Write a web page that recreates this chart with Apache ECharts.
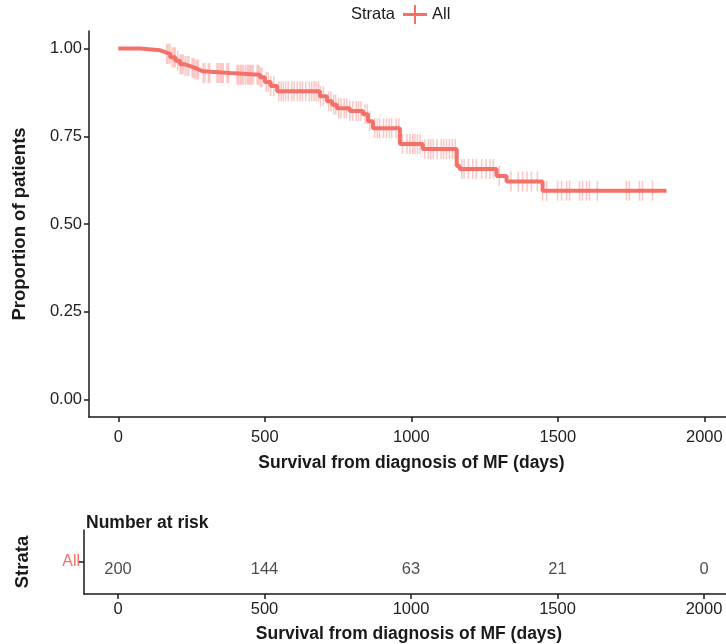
<!DOCTYPE html>
<html>
<head>
<meta charset="utf-8">
<script src="https://cdn.jsdelivr.net/npm/echarts@6/dist/echarts.min.js"></script>
<style>
  html, body { margin: 0; padding: 0; background: #fff; }
  #chart { width: 726px; height: 644px; }
</style>
</head>
<body>
<div id="chart"></div>
<script>
// Kaplan-Meier estimate: event times (days) and survival after each step
const kmTime = [0, 75, 143, 160, 177, 195, 211, 228, 245, 262, 275, 290, 380, 484, 500, 520, 542, 688, 712, 730, 746, 790, 835, 852, 869, 961, 1039, 1155, 1165, 1291, 1325, 1448, 1871];
const kmSurv = [1.000, 0.995, 0.990, 0.985, 0.975, 0.965, 0.955, 0.950, 0.945, 0.940, 0.935, 0.930, 0.925, 0.918, 0.905, 0.893, 0.878, 0.864, 0.850, 0.840, 0.830, 0.822, 0.813, 0.793, 0.773, 0.728, 0.714, 0.665, 0.657, 0.637, 0.621, 0.595, 0.595];

// Censoring times (days)
const censorTime = [
  165, 170, 176, 184, 190, 194, 203, 211, 216, 221, 228, 235, 241, 252, 257, 262, 268, 273,
  290, 296, 307, 312, 337, 342, 348, 353, 358, 371, 376,
  405, 410, 416, 421, 426, 433, 440, 445, 450, 455, 460, 474, 479, 484, 490,
  505, 512, 520, 531, 548, 556, 563, 571, 580, 592, 600, 611, 620, 628, 640, 652,
  660, 668, 675, 683, 690, 700, 718, 726, 735, 742, 752, 760, 771, 779, 790, 800,
  812, 820, 828, 842, 850, 858, 875, 884, 892, 905, 915, 925, 933, 948, 957, 970, 985, 995,
  1005, 1012, 1021, 1030, 1046, 1058, 1066, 1075, 1088, 1102, 1110, 1120, 1130, 1140, 1150,
  1172, 1180, 1195, 1210, 1222, 1240, 1255, 1268, 1280, 1300, 1340, 1365, 1380, 1395, 1410, 1430,
  1448, 1462, 1499, 1513, 1530, 1540, 1574, 1584, 1598, 1608, 1635, 1734, 1744, 1779, 1789, 1823
];

// Number-at-risk table
const strata = ['All'];
const riskTime = [0, 500, 1000, 1500, 2000];
const riskCount = [200, 144, 63, 21, 0];

// Axis ticks
const xTicks = [0, 500, 1000, 1500, 2000];
const yTicks = [0, 0.25, 0.5, 0.75, 1];

const RED = '#F4716A';
const INK = '#1a1a1a';
const FONT = 'Liberation Sans, Arial, sans-serif';

function survAt(t) {
  let s = kmSurv[0];
  for (let i = 0; i < kmTime.length; i++) {
    if (kmTime[i] <= t) s = kmSurv[i]; else break;
  }
  return s;
}

const curveData = kmTime.map((t, i) => [t, kmSurv[i]]);
const censorData = censorTime.map(t => [t, survAt(t)]);
const riskData = riskTime.map((t, i) => [t, strata[0], riskCount[i]]);

const axisLine = { show: true, onZero: false, lineStyle: { color: INK, width: 1.5 } };
const axisTick = { show: true, length: 5, lineStyle: { color: INK, width: 1.5 } };
const tickLabel = { color: '#222', fontSize: 16.5, fontFamily: FONT };
const titleStyle = { color: INK, fontSize: 17.5, fontWeight: 'bold', fontFamily: FONT, padding: [0, 0, 0, 8] };
const vTitleStyle = { color: INK, fontSize: 18.5, fontWeight: 'bold', fontFamily: FONT };

const chart = echarts.init(document.getElementById('chart'), null, { renderer: 'canvas' });

chart.setOption({
  animation: false,
  backgroundColor: '#fff',
  textStyle: { fontFamily: FONT },
  title: {
    text: 'Number at risk',
    left: 81, top: 509,
    textStyle: { color: INK, fontSize: 17.5, fontWeight: 'bold', fontFamily: FONT }
  },
  graphic: [{
    type: 'text', left: 351, top: 6,
    style: { text: 'Strata', fontSize: 16.5, fill: INK, fontFamily: FONT }
  }],
  legend: {
    left: 403, top: 5, padding: 0, itemGap: 5,
    itemWidth: 24, itemHeight: 19,
    textStyle: { color: INK, fontSize: 16.5, fontFamily: FONT },
    data: [{ name: 'All', icon: 'path://M0,8H24V11H0Z M11,0H13V19H11Z' }]
  },
  grid: [
    { left: 89, right: 0, top: 31, bottom: 227, outerBoundsMode: 'none' },
    { left: 84, right: 0, top: 530, bottom: 50, outerBoundsMode: 'none' }
  ],
  xAxis: [
    {
      type: 'value', gridIndex: 0, min: -100, max: 2074,
      axisLine, axisTick: Object.assign({ customValues: xTicks }, axisTick),
      axisLabel: Object.assign({ customValues: xTicks, margin: 12, formatter: v => String(v) }, tickLabel),
      splitLine: { show: false },
      name: 'Survival from diagnosis of MF (days)', nameLocation: 'middle', nameGap: 37,
      nameTextStyle: titleStyle
    },
    {
      type: 'value', gridIndex: 1, min: -116, max: 2075,
      axisLine, axisTick: Object.assign({ customValues: xTicks }, axisTick),
      axisLabel: Object.assign({ customValues: xTicks, margin: 7, formatter: v => String(v) }, tickLabel),
      splitLine: { show: false },
      name: 'Survival from diagnosis of MF (days)', nameLocation: 'middle', nameGap: 31,
      nameTextStyle: titleStyle
    }
  ],
  yAxis: [
    {
      type: 'value', gridIndex: 0, min: -0.05, max: 1.05,
      axisLine, axisTick: Object.assign({ customValues: yTicks }, axisTick),
      axisLabel: Object.assign({ customValues: yTicks, margin: 7, formatter: v => v.toFixed(2) }, tickLabel),
      splitLine: { show: false },
      name: 'Proportion of patients', nameLocation: 'middle', nameGap: 60, nameRotate: 90,
      nameTextStyle: vTitleStyle
    },
    {
      type: 'category', gridIndex: 1, data: strata,
      axisLine, axisTick: Object.assign({ alignWithLabel: true }, axisTick),
      axisLabel: { color: RED, fontSize: 16, fontFamily: FONT, margin: 4 },
      splitLine: { show: false },
      name: 'Strata', nameLocation: 'middle', nameGap: 52, nameRotate: 90,
      nameTextStyle: vTitleStyle
    }
  ],
  series: [
    {
      name: 'All', type: 'line', xAxisIndex: 0, yAxisIndex: 0,
      step: 'end', data: curveData, showSymbol: false, symbol: 'none',
      lineStyle: { color: RED, width: 4 }, itemStyle: { color: RED },
      z: 3
    },
    {
      name: 'censor', type: 'scatter', xAxisIndex: 0, yAxisIndex: 0,
      data: censorData, symbol: 'rect', symbolSize: [1.5, 20],
      itemStyle: { color: 'rgba(244,113,106,0.5)' },
      z: 4
    },
    {
      name: 'risk', type: 'scatter', xAxisIndex: 1, yAxisIndex: 1,
      data: riskData, symbolSize: 0,
      label: {
        show: true, position: 'inside', offset: [0, 7],
        formatter: p => String(p.value[2]),
        color: '#222', fontSize: 16.5, fontFamily: FONT
      }
    }
  ]
});
</script>
</body>
</html>
